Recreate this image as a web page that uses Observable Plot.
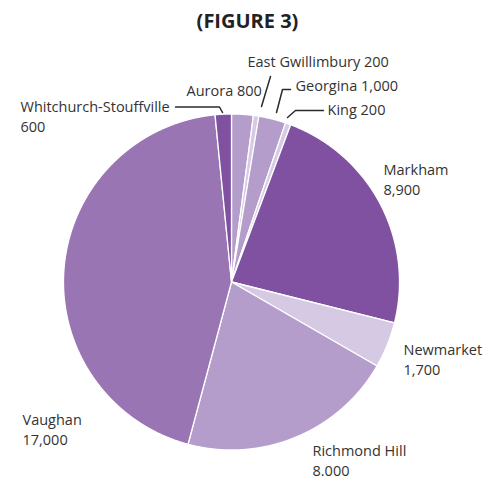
<!DOCTYPE html>
<html><head><meta charset="utf-8">
<script src="https://cdn.jsdelivr.net/npm/d3@7"></script>
<script src="https://cdn.jsdelivr.net/npm/@observablehq/plot@0.6"></script>
<style>body{margin:0;background:#fff}</style>
</head><body><div id="chart"></div>
<script>
// ---- data ----
const municipalities = ["Aurora","East Gwillimbury","Georgina","King","Markham","Newmarket","Richmond Hill","Vaughan","Whitchurch-Stouffville"];
const values = [800, 200, 1000, 200, 8900, 1700, 8000, 17000, 600];
const valueLabels = ["800","200","1,000","200","8,900","1,700","8.000","17,000","600"];
const sliceColors = ["#b49ccb","#d7cae5","#b49ccb","#d7cae5","#7f51a0","#d6c9e4","#b49ccb","#9a75b3","#7f51a0"];
const title = "(FIGURE 3)";

// ---- layout (pixels) ----
const W = 494, H = 478, CX = 231, CY = 281.5, R = 168;
const labelLayout = {
  "Aurora": {x: 186, y: 91, inline: true},
  "East Gwillimbury": {x: 247, y: 62, inline: true},
  "Georgina": {x: 295, y: 86, inline: true},
  "King": {x: 327, y: 110, inline: true},
  "Markham": {x: 383, y: 170},
  "Newmarket": {x: 403, y: 350},
  "Richmond Hill": {x: 312, y: 451},
  "Vaughan": {x: 22, y: 420},
  "Whitchurch-Stouffville": {x: 20, y: 107}
};
const leaderLayout = [
  {id: "eg", pts: [[270, 76], [261, 106]]},
  {id: "ge", pts: [[290, 89], [282, 89], [276, 112]]},
  {id: "ki", pts: [[323, 110], [295, 110], [287, 117]]},
  {id: "ws", pts: [[175, 106.5], [219, 106.5], [222, 112]]}
];
const LINE_GAP = 19.5;
const toX = px => (px - CX) / R;
const toY = py => (CY - py) / R;

// ---- geometry from data ----
const rows = municipalities.map((name, i) => ({name, value: values[i], label: valueLabels[i]}));
const arcs = d3.pie().sort(null).value(d => d.value).startAngle(0).endAngle(2 * Math.PI)(rows);
const slicePts = arcs.flatMap(a => {
  const name = a.data.name;
  const pts = [{name, x: 0, y: 0}];
  const n = Math.max(2, Math.ceil((a.endAngle - a.startAngle) / 0.004));
  for (let i = 0; i <= n; i++) {
    const t = a.startAngle + (a.endAngle - a.startAngle) * i / n;
    pts.push({name, x: Math.sin(t), y: Math.cos(t)});
  }
  return pts;
});

const textRows = rows.flatMap(r => {
  const L = labelLayout[r.name];
  if (L.inline) return [{text: r.name + " " + r.label, x: toX(L.x), y: toY(L.y)}];
  return [
    {text: r.name, x: toX(L.x), y: toY(L.y)},
    {text: r.label, x: toX(L.x), y: toY(L.y + LINE_GAP)}
  ];
});
const leaderPts = leaderLayout.flatMap(l => l.pts.map(([px, py]) => ({id: l.id, x: toX(px), y: toY(py)})));

const chart = Plot.plot({
  width: W, height: H,
  marginTop: 0, marginRight: 0, marginBottom: 0, marginLeft: 0,
  x: {domain: [-1, 1], range: [CX - R, CX + R], axis: null},
  y: {domain: [-1, 1], range: [CY + R, CY - R], axis: null},
  color: {domain: municipalities, range: sliceColors},
  style: {fontFamily: "'Open Sans', sans-serif", background: "#fff"},
  marks: [
    Plot.line(slicePts, {x: "x", y: "y", z: "name", fill: "name", stroke: "#fff", strokeWidth: 1.3, curve: "linear-closed", strokeLinejoin: "round"}),
    Plot.line(leaderPts, {x: "x", y: "y", z: "id", stroke: "#2b2b2b", strokeWidth: 1.5}),
    Plot.text(textRows, {x: "x", y: "y", text: "text", textAnchor: "start", lineAnchor: "middle", fontSize: 14.5, fill: "#333"}),
    Plot.text([title], {x: toX(247), y: toY(21), text: d => d, fontSize: 20, fontWeight: "bold", fill: "#222", lineAnchor: "middle"})
  ]
});
document.getElementById("chart").appendChild(chart);
</script>
</body></html>
